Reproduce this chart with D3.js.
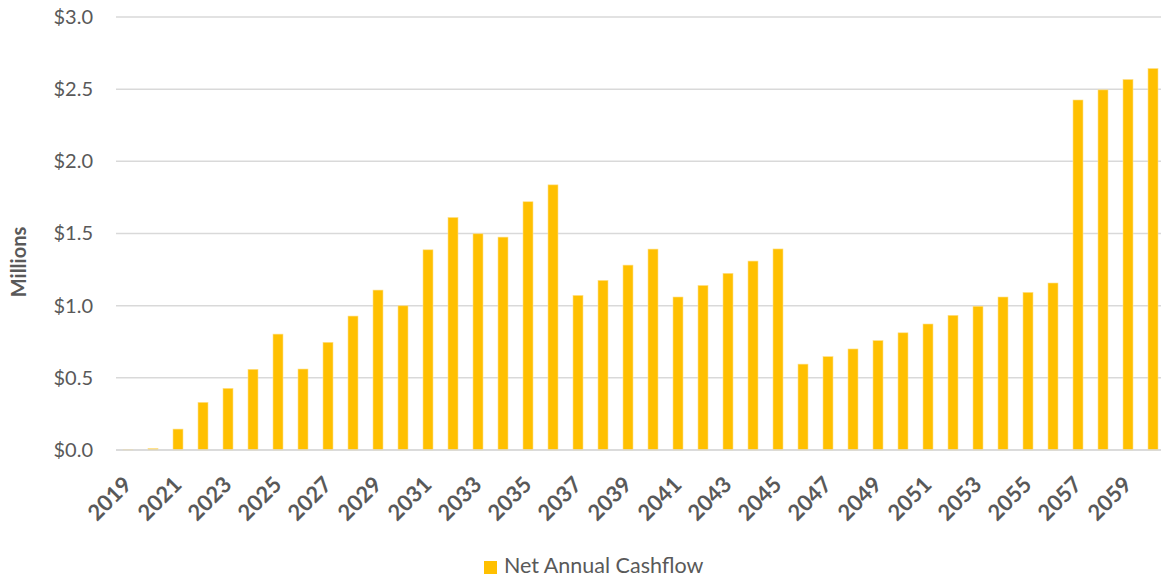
<!DOCTYPE html>
<html>
<head>
<meta charset="utf-8">
<script src="https://cdn.jsdelivr.net/npm/d3@7"></script>
<style>
  html, body { margin: 0; padding: 0; background: #fff; }
  svg { display: block; }
  text { font-family: Lato, "Open Sans", sans-serif; }
</style>
</head>
<body>
<svg id="chart" width="1161" height="581"></svg>
<script>
const years = d3.range(2019, 2061);
const cashflow = [
  0.004, 0.01, 0.145, 0.33, 0.427, 0.559, 0.803, 0.561, 0.746, 0.928,
  1.108, 0.999, 1.387, 1.611, 1.498, 1.475, 1.72, 1.837, 1.071, 1.175,
  1.281, 1.392, 1.06, 1.14, 1.224, 1.309, 1.393, 0.595, 0.647, 0.70,
  0.758, 0.812, 0.873, 0.933, 0.996, 1.06, 1.092, 1.157, 2.425, 2.495,
  2.567, 2.643
];
const yTicks = [0, 0.5, 1.0, 1.5, 2.0, 2.5, 3.0];
const xTickYears = years.filter(y => (y - 2019) % 2 === 0);
const seriesName = "Net Annual Cashflow";
const yTitle = "Millions";

const data = years.map((y, i) => ({ year: y, value: cashflow[i] }));

const svg = d3.select("#chart");
const plotLeft = 115.5, plotRight = 1165.5, plotTop = 17, plotBottom = 450;

const x = d3.scaleBand().domain(years).range([plotLeft, plotRight])
  .paddingInner(0.6).paddingOuter(0.3);
const y = d3.scaleLinear().domain([0, 3]).range([plotBottom, plotTop]);

// gridlines
svg.append("g").selectAll("line").data(yTicks).join("line")
  .attr("x1", 116).attr("x2", 1161)
  .attr("y1", d => y(d)).attr("y2", d => y(d))
  .attr("stroke", "#D9D9D9").attr("stroke-width", 1.5);

// y axis labels
const yAxis = d3.axisLeft(y).tickValues(yTicks)
  .tickFormat(d => "$" + d3.format(".1f")(d)).tickSize(0).tickPadding(0);
const gy = svg.append("g").attr("transform", "translate(93,0)").call(yAxis);
gy.select(".domain").remove();
gy.selectAll("text").attr("fill", "#595959").attr("font-size", 20)
  .attr("font-family", "Lato, sans-serif");

// bars
svg.append("g").selectAll("rect").data(data).join("rect")
  .attr("x", d => x(d.year))
  .attr("width", x.bandwidth())
  .attr("y", d => y(d.value))
  .attr("height", d => y(0) - y(d.value))
  .attr("fill", "#FFC000")
  .attr("stroke", "#FFE08A").attr("stroke-width", 0.6);

// baseline
svg.append("line").attr("x1", 116).attr("x2", 1161)
  .attr("y1", y(0)).attr("y2", y(0))
  .attr("stroke", "#D9D9D9").attr("stroke-width", 1.5);

// x axis
const xAxis = d3.axisBottom(x).tickValues(xTickYears).tickSize(0).tickPadding(0);
const gx = svg.append("g").attr("transform", `translate(0,${plotBottom})`).call(xAxis);
gx.select(".domain").remove();
gx.selectAll("text")
  .attr("fill", "#595959").attr("font-size", 22).attr("font-weight", "bold")
  .attr("font-family", "Lato, sans-serif")
  .attr("text-anchor", "end").attr("dy", null).attr("y", 0)
  .attr("transform", "translate(5,36) rotate(-45)");

// y title
svg.append("text")
  .attr("transform", `translate(26,262) rotate(-90)`)
  .attr("text-anchor", "middle")
  .attr("fill", "#595959").attr("font-size", 20).attr("font-weight", "bold")
  .text(yTitle);

// legend
const lg = svg.append("g").attr("transform", "translate(484,561)");
lg.append("rect").attr("width", 13).attr("height", 13).attr("fill", "#FFC000");
lg.append("text").attr("x", 20).attr("y", 7).attr("dominant-baseline", "middle")
  .attr("fill", "#595959").attr("font-size", 21.5).text(seriesName);
</script>
</body>
</html>
